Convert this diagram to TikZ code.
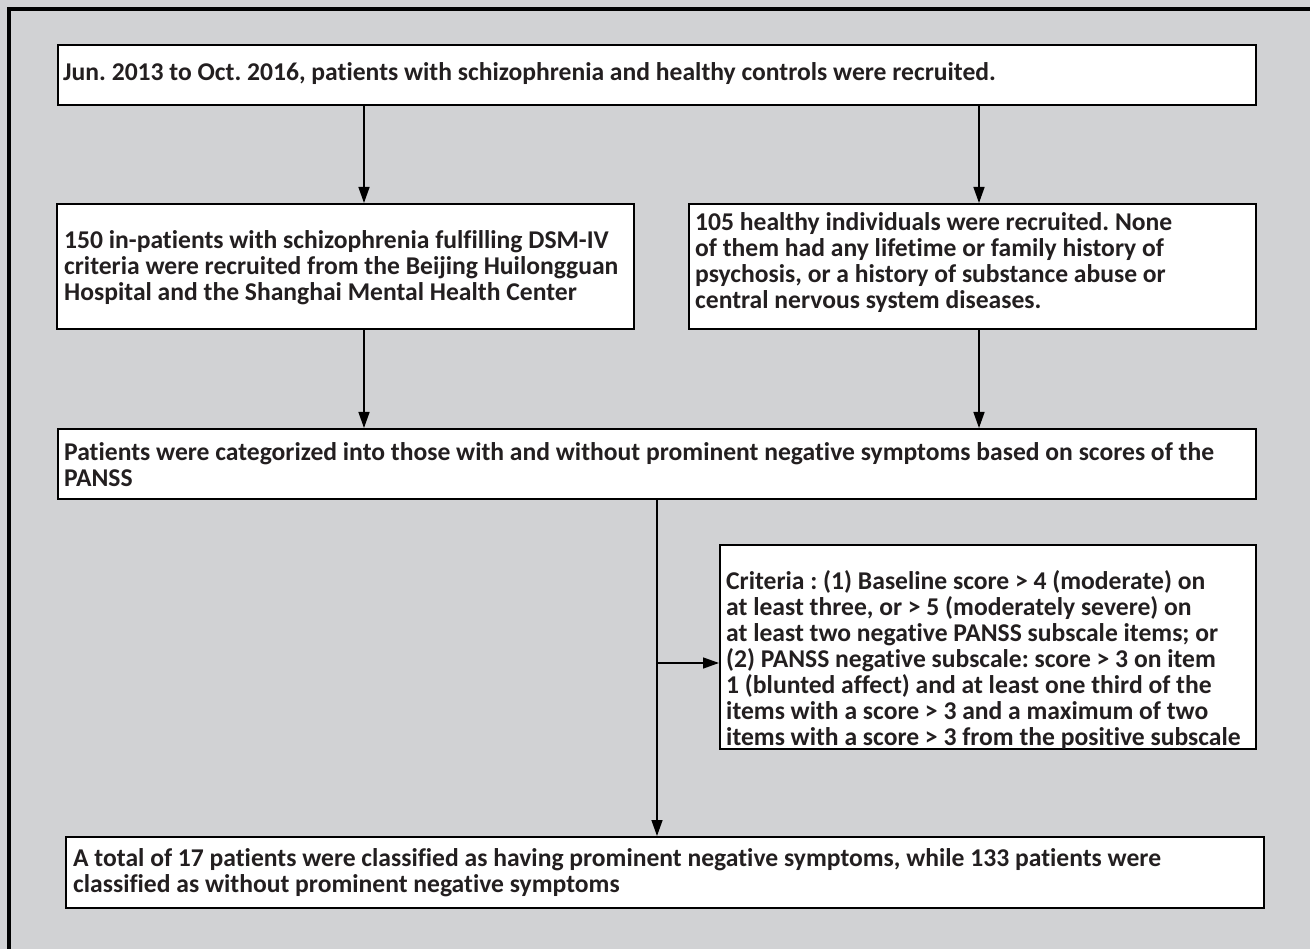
\documentclass[tikz,border=0pt]{standalone}
\usepackage{fontspec}
\setmainfont{Carlito}[Ligatures=NoCommon]
\usetikzlibrary{arrows.meta}
\definecolor{bg}{RGB}{209,210,212}
\definecolor{ink}{RGB}{35,31,32}
\frenchspacing
\begin{document}
\begin{tikzpicture}[x=1pt,y=-1pt,
  box/.style={draw=black, line width=1.8pt, fill=white, anchor=north west, inner sep=0pt},
  txt/.style={anchor=west, align=left, inner sep=0pt, font=\fontsize{25.6}{26}\selectfont\bfseries, text=ink},
  arr/.style={line width=1.4pt, -{Triangle[length=16pt,width=11pt]}}]
\fill[bg] (0,0) rectangle (1310,949);
\useasboundingbox (0,0) rectangle (1310,949);
\draw[line width=4pt] (9,949) -- (9,9) -- (1310,9);
% boxes
\node[box, minimum width=1198pt, minimum height=60pt]  (b1) at (57,44) {};
\node[box, minimum width=577pt,  minimum height=125pt] (b2) at (56,203) {};
\node[box, minimum width=567pt,  minimum height=125pt] (b3) at (688,203) {};
\node[box, minimum width=1198pt, minimum height=70pt]  (b4) at (57,428) {};
\node[box, minimum width=536pt,  minimum height=204pt] (b5) at (719,544) {};
\node[box, minimum width=1198pt, minimum height=71pt]  (b6) at (65,836) {};
% texts
\node[txt] (t1) at (63,74) {Jun. 2013 to Oct. 2016, patients with schizophrenia and healthy controls were recruited.};
\node[txt] (t2) at (64,268) {150 in-patients with schizophrenia fulfilling DSM-IV\\criteria were recruited from the Beijing Huilongguan\\Hospital and the Shanghai Mental Health Center};
\node[txt] (t3) at (695,263) {105 healthy individuals were recruited. None\\of them had any lifetime or family history of\\psychosis, or a history of substance abuse or\\central nervous system diseases.};
\node[txt] (t4) at (64,465) {Patients were categorized into those with and without prominent negative symptoms based on scores of the\\PANSS};
\node[txt] (t5) at (726,660) {Criteria : (1) Baseline score > 4 (moderate) on\\at least three, or > 5 (moderately severe) on\\at least two negative PANSS subscale items; or\\(2) PANSS negative subscale: score > 3 on item\\1 (blunted affect) and at least one third of the\\items with a score > 3 and a maximum of two\\items with a score > 3 from the positive subscale};
\node[txt] (t6) at (73,873) {A total of 17 patients were classified as having prominent negative symptoms, while 133 patients were\\classified as without prominent negative symptoms};
% connector x positions
\coordinate (xl) at (364,0);
\coordinate (xr) at (979,0);
\coordinate (xm) at (657,0);
\coordinate (ya) at (0,663);
\draw[arr] (b1.south -| xl) -- (b2.north -| xl);
\draw[arr] (b1.south -| xr) -- (b3.north -| xr);
\draw[arr] (b2.south -| xl) -- (b4.north -| xl);
\draw[arr] (b3.south -| xr) -- (b4.north -| xr);
\draw[arr] (b4.south -| xm) -- (b6.north -| xm);
\draw[arr] (xm |- ya) -- (b5.west |- ya);
\end{tikzpicture}
\end{document}
